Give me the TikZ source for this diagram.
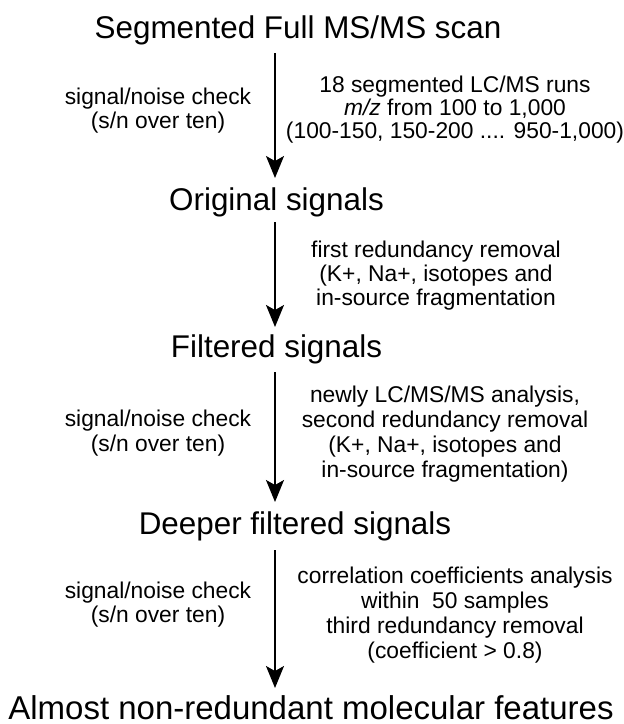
\documentclass[tikz,border=0pt]{standalone}
\usepackage{fontspec}
\setmainfont{Liberation Sans}
\usetikzlibrary{arrows.meta}
\begin{document}
\begin{tikzpicture}[x=1pt,y=-1pt,
  bigtext/.style={inner sep=0pt,anchor=base,font=\fontsize{31.4}{36}\selectfont},
  smalltext/.style={inner sep=0pt,anchor=north,align=center,font=\fontsize{22.8}{24}\selectfont},
  flowarrow/.style={line width=1.7pt,-{Stealth[length=22pt,width=18pt,inset=5pt]}}]
\useasboundingbox (0,0) rectangle (624,724);
% main stages
\node[bigtext] (t1) at (298,38) {Segmented Full MS/MS scan};
\node[bigtext] (t2) at (276.5,210) {Original signals};
\node[bigtext] (t3) at (276.5,357) {Filtered signals};
\node[bigtext] (t4) at (295,534) {Deeper filtered signals};
\node[bigtext,font=\fontsize{33}{36}\selectfont] (t5) at (311,719) {Almost non-redundant molecular features};
% arrows
\coordinate (a1s) at (275,53);  \coordinate (a1e) at (275,178);
\coordinate (a2s) at (275,222); \coordinate (a2e) at (275,327);
\coordinate (a3s) at (275,372); \coordinate (a3e) at (275,502);
\coordinate (a4s) at (275,550); \coordinate (a4e) at (275,688);
\draw[flowarrow] (a1s) -- (a1e);
\draw[flowarrow] (a2s) -- (a2e);
\draw[flowarrow] (a3s) -- (a3e);
\draw[flowarrow] (a4s) -- (a4e);
% left labels
\node[smalltext] (l1) at (158,87.5) {signal/noise check\\(s/n over ten)};
\node[smalltext,font=\fontsize{22.8}{25}\selectfont] (l3) at (158,409.5) {signal/noise check\\(s/n over ten)};
\node[smalltext,font=\fontsize{22.8}{24.5}\selectfont] (l4) at (158,581.5) {signal/noise check\\(s/n over ten)};
% right labels
\node[smalltext,font=\fontsize{22.8}{23}\selectfont] (r1) at (455,75.5) {18 segmented LC/MS runs\\\textit{m/z} from 100 to 1,000\\(100-150, 150-200 .... 950-1,000)};
\node[smalltext] (r2) at (436,240.5) {first redundancy removal\\(K+, Na+, isotopes and\\in-source fragmentation};
\node[smalltext,font=\fontsize{22.8}{25}\selectfont] (r3) at (445,385.5) {newly LC/MS/MS analysis,\\second redundancy removal\\(K+, Na+, isotopes and\\in-source fragmentation)};
\node[smalltext,font=\fontsize{22.8}{25}\selectfont] (r4) at (455,566.5) {correlation coefficients analysis\\within\ \ 50 samples\\third redundancy removal\\(coefficient > 0.8)};
\end{tikzpicture}
\end{document}
